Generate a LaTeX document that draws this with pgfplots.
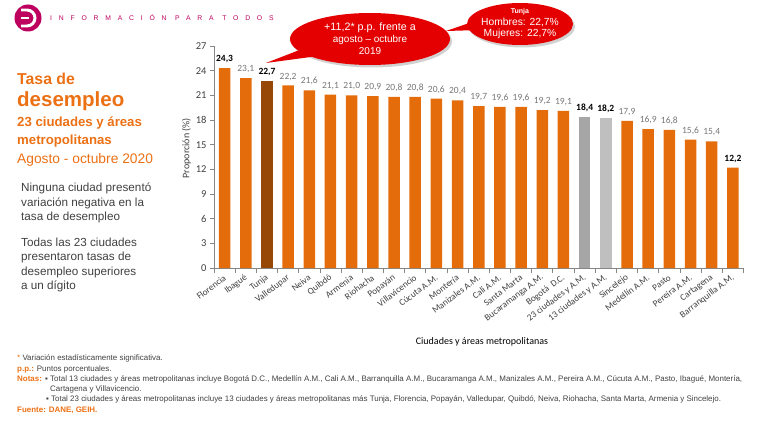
\documentclass[border=0pt]{standalone}
\usepackage{fontspec}
\setmainfont{Liberation Sans}
\newfontfamily\carlito{Carlito}
\usepackage{pgfplots}
\pgfplotsset{compat=1.18}
\definecolor{barorange}{RGB}{228,108,10}
\definecolor{tunjac}{RGB}{151,72,7}
\definecolor{gA}{RGB}{166,166,166}
\definecolor{gB}{RGB}{191,191,191}
\definecolor{txtorange}{RGB}{236,112,20}
\definecolor{darktext}{RGB}{64,64,64}
\definecolor{lblgray}{RGB}{118,118,118}
\definecolor{bubred}{RGB}{228,0,0}
\definecolor{danemag}{RGB}{190,0,95}
\definecolor{axgray}{RGB}{134,134,134}
\newcommand\fs[2]{\fontsize{#1bp}{#2bp}\selectfont}
\begin{document}
\begin{tikzpicture}[x=1bp,y=1bp]
\path[use as bounding box] (0,0) rectangle (768,423);

% logo
\fill[danemag] (28,423-18) circle (13.5);
\draw[white, line width=3] (21,423-10) -- (27,423-10) arc (90:-90:8) -- (21,423-26);
\draw[white, line width=3] (21,423-18) -- (29,423-18);
\node[anchor=base west, inner sep=0, text=danemag] at (50,423-20.5) {\fs{6.8}{8}\addfontfeature{LetterSpace=100}INFORMACIÓN PARA TODOS};

% left titles
\node[anchor=base west, inner sep=0, text=txtorange] at (17,423-84) {\fs{15.8}{17}\bfseries Tasa de};
\node[anchor=base west, inner sep=0, text=txtorange] at (17,423-106) {\fs{20.5}{22}\bfseries desempleo};
\node[anchor=base west, inner sep=0, text=txtorange] at (17,423-126) {\fs{13.2}{15}\bfseries 23 ciudades y áreas};
\node[anchor=base west, inner sep=0, text=txtorange] at (17,423-144) {\fs{13.2}{15}\bfseries metropolitanas};
\node[anchor=base west, inner sep=0, text=txtorange] at (17,423-163) {\fs{13.8}{15}Agosto - octubre 2020};

\node[anchor=base west, inner sep=0, text=darktext] at (21,423-191) {\fs{11.7}{14}Ninguna ciudad presentó};
\node[anchor=base west, inner sep=0, text=darktext] at (21,423-206) {\fs{11.7}{14}variación negativa en la};
\node[anchor=base west, inner sep=0, text=darktext] at (21,423-220.5) {\fs{11.7}{14}tasa de desempleo};
\node[anchor=base west, inner sep=0, text=darktext] at (21,423-246) {\fs{11.7}{14}Todas las 23 ciudades};
\node[anchor=base west, inner sep=0, text=darktext] at (21,423-260.5) {\fs{11.7}{14}presentaron tasas de};
\node[anchor=base west, inner sep=0, text=darktext] at (21,423-275) {\fs{11.7}{14}desempleo superiores};
\node[anchor=base west, inner sep=0, text=darktext] at (21,423-289.5) {\fs{11.7}{14}a un dígito};

\begin{axis}[
  at={(214bp,155bp)}, anchor=south west,
  scale only axis, width=529.5bp, height=222bp,
  xmin=-0.5, xmax=24.5, ymin=0, ymax=27,
  axis lines*=left,
  axis line style={draw=axgray, line width=0.8bp},
  ybar, bar width=11.5bp,
  ytick={0,3,...,27},
  xtick={0,...,24},
  xticklabels={Florencia, Ibagué, Tunja, Valledupar, Neiva, Quibdó, Armenia, Riohacha, Popayán, Villavicencio, Cúcuta A.M., Montería, Manizales A.M., Cali A.M., Santa Marta, Bucaramanga A.M., Bogotá\ \ D.C., 23 ciudades y A.M., 13 ciudades y A.M., Sincelejo, Medellín A.M., Pasto, Pereira A.M., Cartagena, Barranquilla A.M.},
  minor xtick={-0.5,0.5,...,24.5},
  major x tick style={draw=none},
  minor x tick style={draw=axgray, line width=0.8bp},
  y tick style={draw=axgray, line width=0.8bp},
  tick align=outside,
  major tick length=4bp, minor tick length=5bp,
  /pgf/number format/assume math mode=true,
  yticklabel style={font=\carlito\fs{10.5}{12}, text=darktext},
  xticklabel style={font=\carlito\fs{9.2}{10}, text=darktext, rotate=37, anchor=east, inner sep=1bp, yshift=-4bp, xshift=-1.5bp},
  ylabel={Proporción (\%)},
  ylabel style={font=\carlito\fs{10}{12}, text=darktext, at={(axis description cs:-0.052,0.54)}, anchor=center},
  xlabel={Ciudades y áreas metropolitanas},
  xlabel style={font=\carlito\fs{10}{12}, text=black, at={(axis description cs:0.506,-0.333)}, anchor=center},
  nodes near coords={\pgfmathprintnumber[fixed,fixed zerofill,precision=1,use comma,assume math mode=true]{\pgfplotspointmeta}},
  every node near coord/.append style={font=\carlito\fs{9.5}{11}, text=lblgray, inner sep=2bp, yshift=3bp},
]
\addplot[fill=barorange, draw=none, bar shift=0pt] table {
x y
1 23.1
3 22.2
4 21.6
5 21.1
6 21.0
7 20.9
8 20.8
9 20.8
10 20.6
11 20.4
12 19.7
13 19.6
14 19.6
15 19.2
16 19.1
19 17.9
20 16.9
21 16.8
22 15.6
23 15.4
};
\addplot[fill=barorange, draw=none, bar shift=0pt, every node near coord/.append style={font=\carlito\bfseries\fs{9.5}{11}, text=black}] table {
x y
0 24.3
24 12.2
};
\addplot[fill=tunjac, draw=none, bar shift=0pt, every node near coord/.append style={font=\carlito\bfseries\fs{9.5}{11}, text=black}] table {
x y
2 22.7
};
\addplot[fill=gA, draw=none, bar shift=0pt, every node near coord/.append style={font=\carlito\bfseries\fs{9.5}{11}, text=black}] table {
x y
17 18.4
};
\addplot[fill=gB, draw=none, bar shift=0pt, every node near coord/.append style={font=\carlito\bfseries\fs{9.5}{11}, text=black}] table {
x y
18 18.2
};
\end{axis}

% bubble 1
\fill[black!18] (372,423-41.5) ellipse (80 and 26);
\fill[bubred] (302,423-49) -- (266,423-63) -- (318,423-56) -- cycle;
\fill[bubred] (370,423-39) ellipse (80 and 26);
\node[text=white, align=center, inner sep=0] at (370,423-38.5) {\fs{10.7}{13}+11,2* p.p. frente a\\agosto – octubre\\2019};

% bubble 2
\fill[black!18] (522,423-26.5) ellipse (53 and 21);
\fill[bubred] (478,423-20) -- (446,423-31) -- (480,423-30) -- cycle;
\fill[bubred] (520,423-24) ellipse (53 and 21);
\node[text=white, inner sep=0] at (520,423-12) {\fs{7}{8}\bfseries Tunja};
\node[text=white, inner sep=0] at (520,423-22.5) {\fs{10.3}{12}Hombres: 22,7\%};
\node[text=white, inner sep=0] at (520,423-33.5) {\fs{10.3}{12}Mujeres: 22,7\%};

% footnotes
\node[anchor=base west, inner sep=0, text=darktext] at (17,423-360.5) {\fs{7.95}{9}\textcolor{txtorange}{*} Variación estadísticamente significativa.};
\node[anchor=base west, inner sep=0, text=darktext] at (17,423-371) {\fs{7.95}{9}\textcolor{txtorange}{\bfseries p.p.:} Puntos porcentuales.};
\node[anchor=base west, inner sep=0, text=txtorange] at (17,423-381.5) {\fs{7.95}{9}\bfseries Notas:};
\node[anchor=base west, inner sep=0, text=darktext] at (45,423-381.5) {\fs{7.95}{9}\makebox[697bp][s]{▪ Total 13 ciudades y áreas metropolitanas incluye Bogotá D.C., Medellín A.M., Cali A.M., Barranquilla A.M., Bucaramanga A.M., Manizales A.M., Pereira A.M., Cúcuta A.M., Pasto, Ibagué, Montería,}};
\node[anchor=base west, inner sep=0, text=darktext] at (50,423-391) {\fs{7.95}{9}Cartagena y Villavicencio.};
\node[anchor=base west, inner sep=0, text=darktext] at (46,423-401.5) {\fs{7.95}{9}▪ Total 23 ciudades y áreas metropolitanas incluye 13 ciudades y áreas metropolitanas más Tunja, Florencia, Popayán, Valledupar, Quibdó, Neiva, Riohacha, Santa Marta, Armenia y Sincelejo.};
\node[anchor=base west, inner sep=0, text=txtorange] at (17,423-412.5) {\fs{7.95}{9}\bfseries Fuente: DANE, GEIH.};
\end{tikzpicture}
\end{document}
